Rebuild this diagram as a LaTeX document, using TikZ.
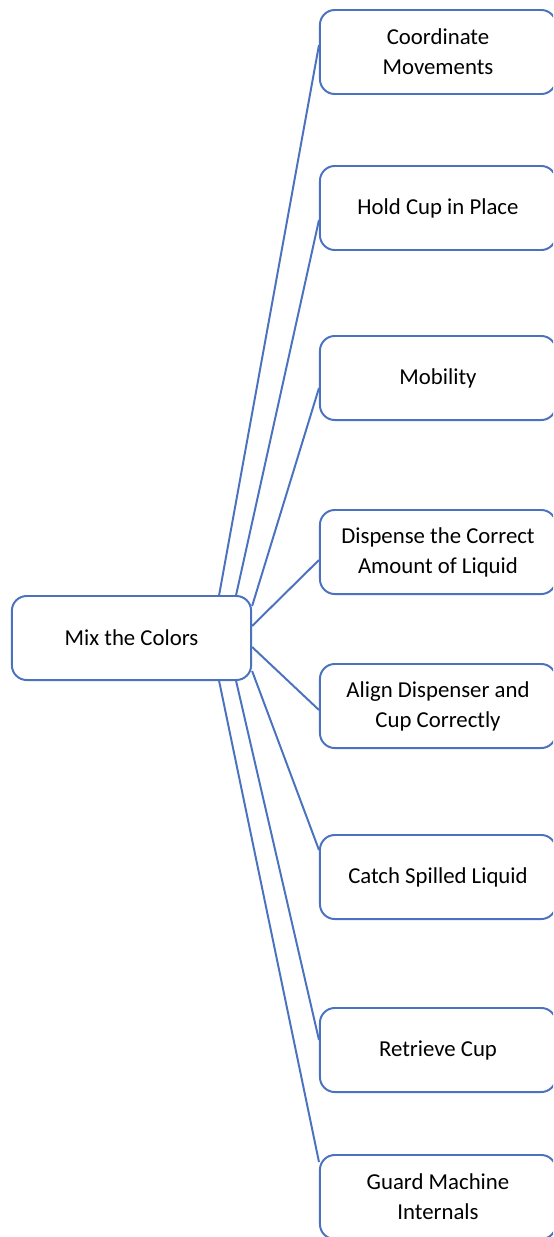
\documentclass[tikz,border=0pt]{standalone}
\usepackage{fontspec}
\setmainfont{Carlito}
\usetikzlibrary{calc}

\begin{document}
\begin{tikzpicture}[x=0.025cm, y=-0.025cm,
    box/.style={draw=linkblue, line width=1.4pt, rounded corners=0.37cm, fill=white,
        minimum height=2.1cm, align=center, font=\fontsize{16.2}{21.3}\selectfont},
    leaf/.style={box, minimum width=5.9cm},
    link/.style={draw=linkblue, line width=1.4pt}]
    \definecolor{linkblue}{HTML}{4A72BE}
    \useasboundingbox (0,0) rectangle (553,1237);
    \clip (0,0) rectangle (553,1237);

    \node[box, minimum width=5.98cm] (mix) at (131.5,638) {Mix the Colors};

    \node[leaf] (coord) at (438,52) {Coordinate\\Movements};
    \node[leaf] (hold) at (438,208) {Hold Cup in Place};
    \node[leaf] (mob) at (438,378) {Mobility};
    \node[leaf] (disp) at (438,552) {Dispense the Correct\\Amount of Liquid};
    \node[leaf] (align) at (438,706) {Align Dispenser and\\Cup Correctly};
    \node[leaf] (catch) at (438,877) {Catch Spilled Liquid};
    \node[leaf] (retr) at (438,1050) {Retrieve Cup};
    \node[leaf] (guard) at (438,1197) {Guard Machine\\Internals};

    \draw[link] ($(mix.north east)+(-33,0)$) -- ($(coord.west)+(0,-7)$);
    \draw[link] ($(mix.north east)+(-16,0)$) -- ($(hold.west)+(0,12)$);
    \draw[link] ($(mix.east)+(0,-32)$) -- ($(mob.west)+(0,10)$);
    \draw[link] ($(mix.east)+(0,-12)$) -- ($(disp.west)+(0,8)$);
    \draw[link] ($(mix.east)+(0,9)$) -- ($(align.west)+(0,4)$);
    \draw[link] ($(mix.east)+(0,33)$) -- ($(catch.west)+(0,-27)$);
    \draw[link] ($(mix.south east)+(-16,0)$) -- ($(retr.west)+(0,-10)$);
    \draw[link] ($(mix.south east)+(-33,0)$) -- ($(guard.west)+(0,-35)$);
\end{tikzpicture}
\end{document}
